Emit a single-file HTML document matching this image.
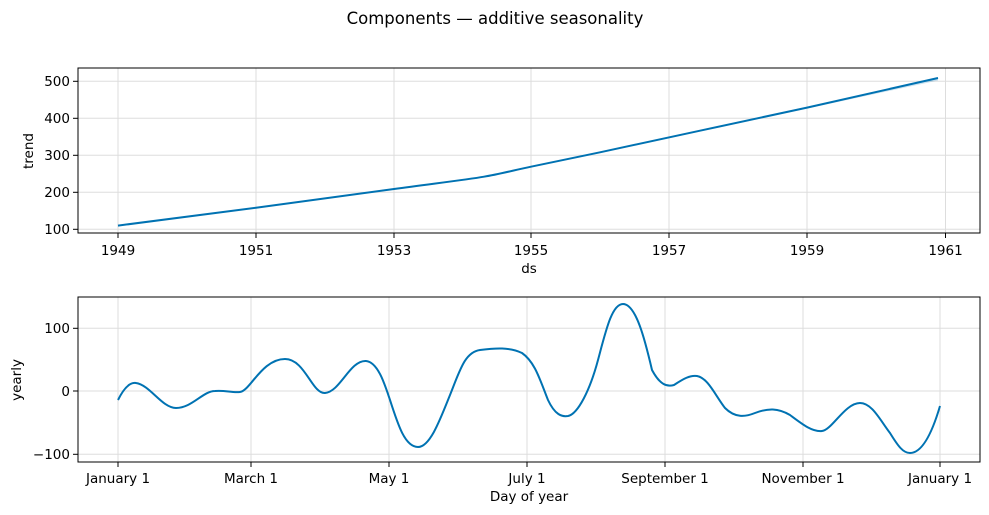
<!DOCTYPE html>
<html><head><meta charset="utf-8"><style>body{margin:0;background:#fff}svg{display:block;font-family:"DejaVu Sans","Liberation Sans",sans-serif}</style></head><body>
<svg width="989" height="515" viewBox="0 0 989 515">
<text x="495" y="24" font-size="16.5" text-anchor="middle" fill="#000">Components — additive seasonality</text>
<g stroke="#ddd" stroke-width="1">
<line x1="118" y1="68" x2="118" y2="233"/><line x1="256" y1="68" x2="256" y2="233"/><line x1="394" y1="68" x2="394" y2="233"/><line x1="531" y1="68" x2="531" y2="233"/><line x1="669" y1="68" x2="669" y2="233"/><line x1="807" y1="68" x2="807" y2="233"/><line x1="945.5" y1="68" x2="945.5" y2="233"/>
<line x1="78" y1="81.3" x2="980" y2="81.3"/><line x1="78" y1="118.3" x2="980" y2="118.3"/><line x1="78" y1="155.3" x2="980" y2="155.3"/><line x1="78" y1="192.3" x2="980" y2="192.3"/><line x1="78" y1="229.3" x2="980" y2="229.3"/>
<line x1="118" y1="297" x2="118" y2="462"/><line x1="251" y1="297" x2="251" y2="462"/><line x1="389" y1="297" x2="389" y2="462"/><line x1="527" y1="297" x2="527" y2="462"/><line x1="665" y1="297" x2="665" y2="462"/><line x1="803" y1="297" x2="803" y2="462"/><line x1="940" y1="297" x2="940" y2="462"/>
<line x1="78" y1="328.3" x2="980" y2="328.3"/><line x1="78" y1="391" x2="980" y2="391"/><line x1="78" y1="454.3" x2="980" y2="454.3"/>
</g>
<path d="M807,107.6 L938,77.5 L938,80.5 L807,108.6 Z" fill="#0072B2" opacity="0.2"/>
<path fill="none" stroke="#0072B2" stroke-width="2" d="M118,225.6 L256,207.7 L394,189 C430,184 465,180 484,176.7 C500,174 515,170 531,166.7 L600,152.3 L700,130.7 L807,107.6 L938,78"/>
<path fill="none" stroke="#0072B2" stroke-width="2" d="M118,400 C124,388 130,382 136,383 C150,385 162,408 176,408 C192,408 203,391 215,391 C225,390 232,393 240,392 C250,391 262,359 285,359 C305,359 312,394 325,393 C340,392 350,360 366,361 C378,362 385,385 390,400 C398,425 405,447 418,447 C430,447 440,420 450,395 C460,370 465,352 480,350 C495,348 510,347 522,353 C535,362 540,380 548,400 C555,415 562,417 568,416 C578,414 590,390 598,360 C606,330 612,304 623,304 C636,304 645,340 652,370 C660,385 667,387 674,385 C683,379 690,375 697,376 C708,378 715,395 725,408 C735,418 745,417 755,413 C768,408 778,408 790,415 C802,424 812,432 822,431 C832,430 845,403 860,403 C872,403 880,420 890,433 C898,446 903,453 910,453 C920,453 930,440 940,406"/>
<rect x="78" y="68" width="902" height="165" fill="none" stroke="#000" stroke-width="1"/>
<rect x="78" y="297" width="902" height="165" fill="none" stroke="#000" stroke-width="1"/>
<g stroke="#000"><line x1="73" y1="81.3" x2="78" y2="81.3"/><line x1="73" y1="118.3" x2="78" y2="118.3"/><line x1="73" y1="155.3" x2="78" y2="155.3"/><line x1="73" y1="192.3" x2="78" y2="192.3"/><line x1="73" y1="229.3" x2="78" y2="229.3"/>
<line x1="118" y1="233" x2="118" y2="238"/><line x1="256" y1="233" x2="256" y2="238"/><line x1="394" y1="233" x2="394" y2="238"/><line x1="531" y1="233" x2="531" y2="238"/><line x1="669" y1="233" x2="669" y2="238"/><line x1="807" y1="233" x2="807" y2="238"/><line x1="945.5" y1="233" x2="945.5" y2="238"/>
<line x1="73" y1="328.3" x2="78" y2="328.3"/><line x1="73" y1="391" x2="78" y2="391"/><line x1="73" y1="454.3" x2="78" y2="454.3"/>
<line x1="118" y1="462" x2="118" y2="467"/><line x1="251" y1="462" x2="251" y2="467"/><line x1="389" y1="462" x2="389" y2="467"/><line x1="527" y1="462" x2="527" y2="467"/><line x1="665" y1="462" x2="665" y2="467"/><line x1="803" y1="462" x2="803" y2="467"/><line x1="940" y1="462" x2="940" y2="467"/></g>
<g font-size="13.5" fill="#000" text-anchor="end">
<text x="70" y="86">500</text><text x="70" y="123">400</text><text x="70" y="160">300</text><text x="70" y="197">200</text><text x="70" y="234">100</text>
<text x="70" y="333">100</text><text x="70" y="396">0</text><text x="70" y="459">−100</text></g>
<g font-size="13.5" fill="#000" text-anchor="middle">
<text x="118" y="255">1949</text><text x="256" y="255">1951</text><text x="394" y="255">1953</text><text x="531" y="255">1955</text><text x="669" y="255">1957</text><text x="807" y="255">1959</text><text x="945.5" y="255">1961</text>
<text x="529" y="273">ds</text>
<text x="118" y="483">January 1</text><text x="251" y="483">March 1</text><text x="389" y="483">May 1</text><text x="527" y="483">July 1</text><text x="665" y="483">September 1</text><text x="803" y="483">November 1</text><text x="940" y="483">January 1</text>
<text x="529" y="501">Day of year</text>
<text transform="translate(33,151) rotate(-90)">trend</text>
<text transform="translate(21,380) rotate(-90)">yearly</text></g>
</svg></body></html>
